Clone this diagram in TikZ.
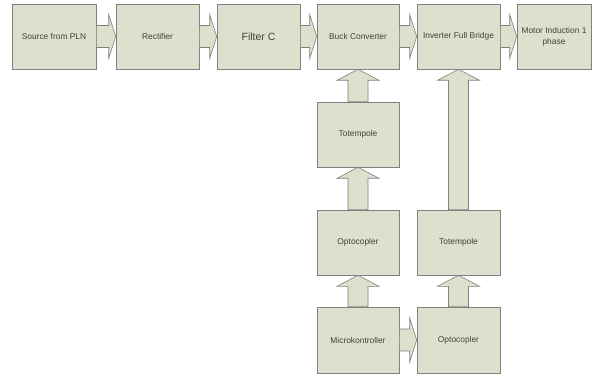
\documentclass[tikz,border=0pt]{standalone}
\usepackage{fontspec}
\setmainfont{Liberation Sans}
\usepackage{tikz}
\usetikzlibrary{calc,shapes,positioning,shadows}

\definecolor{boxfill}{RGB}{221,224,204}
\definecolor{boxline}{RGB}{128,128,128}
\definecolor{boxtext}{RGB}{64,64,64}

\tikzset{
  block/.style={rectangle, draw=boxline, fill=boxfill, line width=0.6pt,
    minimum width=83pt, minimum height=65pt, inner sep=1pt, align=center,
    text=boxtext, font=\fontsize{8.4}{11}\selectfont,
    drop shadow={shadow xshift=0.6pt, shadow yshift=-1.2pt, fill=black!25, opacity=1}},
  blockarrow/.style={draw=boxline, fill=boxfill, line width=0.6pt, line join=miter}
}

% block arrow, left to right
\newcommand{\harrow}[2]{%
  \path[blockarrow] let \p1=(#1.east), \p2=(#2.west) in
    (\x1,{\y1+11pt}) -- ({\x2-7pt},{\y1+11pt}) -- ({\x2-7pt},{\y1+22pt})
    -- (\x2,\y1) -- ({\x2-7pt},{\y1-22pt}) -- ({\x2-7pt},{\y1-11pt})
    -- (\x1,{\y1-11pt}) -- cycle;}
% block arrow, bottom to top
\newcommand{\varrow}[2]{%
  \path[blockarrow] let \p1=(#1.north), \p2=(#2.south) in
    ({\x1-10pt},\y1) -- ({\x1-10pt},{\y2-11pt}) -- ({\x1-21pt},{\y2-11pt})
    -- (\x1,\y2) -- ({\x1+21pt},{\y2-11pt}) -- ({\x1+10pt},{\y2-11pt})
    -- ({\x1+10pt},\y1) -- cycle;}

\begin{document}
\begin{tikzpicture}[x=1pt, y=-1pt]
  \useasboundingbox (0,0) rectangle (597,374);

  % power path
  \node[block, minimum width=84pt] (pln) at (54,36.5) {Source from PLN};
  \node[block] (rect) at (157.5,36.5) {Rectifier};
  \node[block, font=\fontsize{10.5}{13}\selectfont] (filt) at (258.5,36.5) {Filter C};
  \node[block, minimum width=82pt] (buck) at (358,36.5) {Buck Converter};
  \node[block] (inv) at (458.5,36.5) {Inverter Full Bridge};
  \node[block, minimum width=74pt] (motor) at (554,36.5) {Motor Induction 1\\phase};

  % control path
  \node[block, minimum width=82pt] (totA) at (358,134.5) {Totempole};
  \node[block, minimum width=82pt] (optA) at (358,242.5) {Optocopler};
  \node[block, minimum width=82pt, minimum height=66pt] (micro) at (358,340) {Microkontroller};
  \node[block] (totB) at (458.5,242.5) {Totempole};
  \node[block, minimum height=66pt] (optB) at (458.5,340) {Optocopler};

  \harrow{pln}{rect}
  \harrow{rect}{filt}
  \harrow{filt}{buck}
  \harrow{buck}{inv}
  \harrow{inv}{motor}
  \harrow{micro}{optB}

  \varrow{totA}{buck}
  \varrow{optA}{totA}
  \varrow{micro}{optA}
  \varrow{totB}{inv}
  \varrow{optB}{totB}
\end{tikzpicture}
\end{document}
